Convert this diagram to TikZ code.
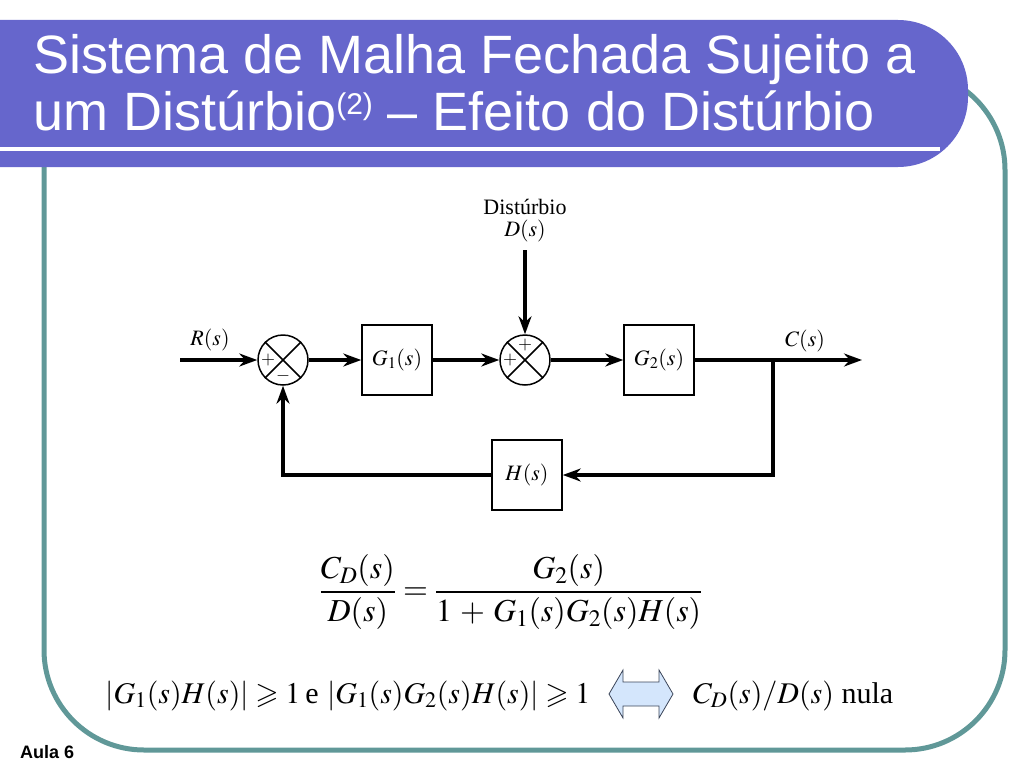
\documentclass[tikz,border=0pt]{standalone}
\usepackage{amsmath,amssymb}
\usepackage{mathptmx}
\usepackage{fontspec}
\setmainfont{Liberation Serif}
\newfontfamily\titlefont{Liberation Sans}
\usetikzlibrary{arrows.meta}
\definecolor{barcol}{RGB}{102,102,204}
\definecolor{framecol}{RGB}{96,152,152}
\definecolor{arrfill}{RGB}{212,230,252}
\definecolor{arrline}{RGB}{60,70,90}
\begin{document}
\begin{tikzpicture}[x=1pt,y=-1pt,
  blk/.style={draw, line width=1.5pt, minimum width=70pt, minimum height=70pt, inner sep=0pt, font=\fontsize{22}{24}\selectfont},
  sumc/.style={draw, circle, line width=1.5pt, minimum size=50pt, inner sep=0pt},
  sig/.style={line width=3.5pt, -{Stealth[length=18pt,width=13pt]}},
  lbl/.style={font=\fontsize{22}{24}\selectfont, inner sep=1pt},
  sgn/.style={font=\fontsize{18}{18}\selectfont, inner sep=0pt},
  ttl/.style={anchor=base west, text=white, inner sep=0pt, font=\titlefont\fontsize{54}{56}\selectfont},
  eqf/.style={font=\fontsize{30}{34}\selectfont, inner sep=0pt},
]
\useasboundingbox (0,0) rectangle (1024,768);
% frame
\draw[framecol, line width=5pt, rounded corners=100pt] (44,70) rectangle (1005,750);
% title bar
\fill[barcol, rounded corners=70pt] (-100,20) rectangle (968,167);
\fill[white] (0,147) rectangle (940,151);
\node[ttl] (t1) at (33,73) {Sistema de Malha Fechada Sujeito a};
\node[ttl] (t2) at (33,130) {um Distúrbio{\fontsize{30}{30}\selectfont\raisebox{16pt}{(2)}} – Efeito do Distúrbio};

% block diagram
\node[sumc] (s1) at (283,360) {};
\node[blk] (g1) at (397,360) {$G_1(s)$};
\node[sumc] (s2) at (525,360) {};
\node[blk] (g2) at (659,360) {$G_2(s)$};
\node[blk] (h) at (527,475) {$H(s)$};
\coordinate (in) at (180,360);
\coordinate (out) at (862,360);
\coordinate (br) at (773,360);
\coordinate (dtop) at (525,250);
\draw[line width=1.5pt] (s1.north east) -- (s1.south west) (s1.north west) -- (s1.south east);
\draw[line width=1.5pt] (s2.north east) -- (s2.south west) (s2.north west) -- (s2.south east);
\node[sgn] at ([xshift=-15pt]s1.center) {$+$};
\node[sgn] at ([yshift=-16pt]s1.center) {$-$};
\node[sgn] at ([xshift=-15pt]s2.center) {$+$};
\node[sgn] at ([yshift=15pt]s2.center) {$+$};
\node[lbl] (rl) at (210,340) {$R(s)$};
\node[lbl] (cl) at (805,341) {$C(s)$};
\node[lbl, anchor=base] (dl1) at (525,214) {Distúrbio};
\node[lbl, anchor=base] (dl2) at (525,236) {$D(s)$};

\draw[sig] (in) -- (s1);
\draw[sig] (s1) -- (g1);
\draw[sig] (g1) -- (s2);
\draw[sig] (dtop) -- (s2);
\draw[sig] (s2) -- (g2);
\draw[sig] (g2) -- (out);
\draw[sig] (br) |- (h);
\draw[sig] (h) -| (s1);

% equation
\node[eqf, font=\fontsize{32}{36}\selectfont] (eq) at (511,592) {$\dfrac{C_D(s)}{D(s)} = \dfrac{G_2(s)}{1 \,+\, G_1(s)G_2(s)H(s)}$};

% bottom line
\node[eqf, anchor=base west] (cond) at (105,703) {$|G_1(s)H(s)| \geqslant 1$\,e\;$|G_1(s)G_2(s)H(s)| \geqslant 1$};
\draw[arrline, fill=arrfill, line width=0.8pt] (609,694) -- (623,670) -- (623,682) -- (659,682) -- (659,670) -- (673,694) -- (659,718) -- (659,706) -- (623,706) -- (623,718) -- cycle;
\node[eqf, anchor=base west] (res) at (693,703) {$C_D(s)/D(s)$ nula};

\node[anchor=base west, inner sep=0pt, font=\titlefont\bfseries\fontsize{18}{20}\selectfont] (aula) at (20,758) {Aula 6};
\end{tikzpicture}
\end{document}
